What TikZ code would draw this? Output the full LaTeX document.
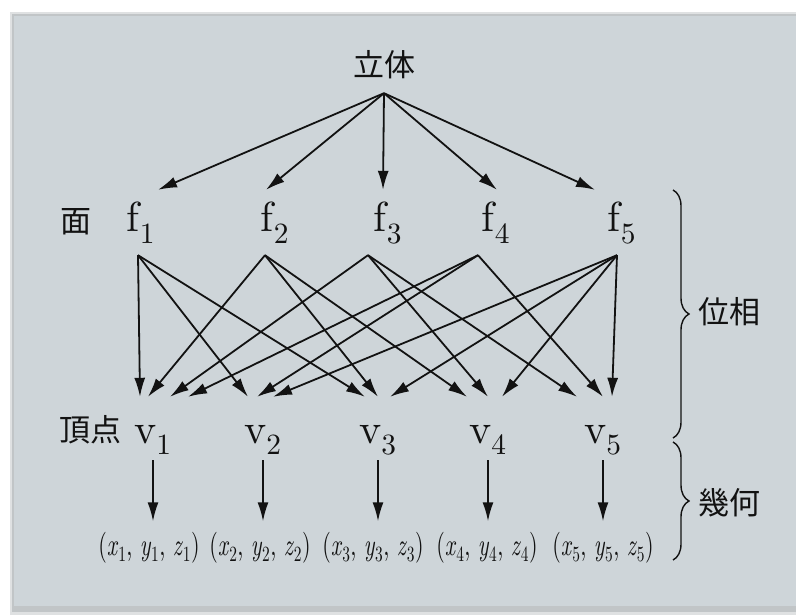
\documentclass[tikz,border=0pt]{standalone}
\usepackage{fontspec}
\usepackage{graphicx}
\setmainfont{lmroman10-regular.otf}[ItalicFont=lmroman10-italic.otf]
\newfontfamily\jpfont{Noto Sans CJK JP}
\usetikzlibrary{arrows.meta, calc, decorations.pathreplacing}
\definecolor{panelgray}{RGB}{206,213,217}
\definecolor{shadegray}{RGB}{165,170,174}
\definecolor{inkdark}{RGB}{18,18,18}
\tikzset{
  jplabel/.style={font=\jpfont\fontsize{31}{34}\selectfont, text=inkdark, inner sep=0pt},
  facenode/.style={font=\fontsize{42}{46}\selectfont, text=inkdark, anchor=base,
    text height=38pt, text depth=19pt, inner sep=4pt},
  vertnode/.style={font=\fontsize{42}{46}\selectfont, text=inkdark, anchor=base,
    text height=42pt, text depth=13pt, inner sep=4pt},
  coordnode/.style={font=\fontsize{31}{33}\selectfont, text=inkdark,
    inner xsep=2pt, inner ysep=11pt},
  arrow/.style={-{Latex[length=19pt, width=11pt]}, line width=1.8pt, color=inkdark},
  brace/.style={decorate, decoration={brace, amplitude=16pt}, line width=1.4pt, color=inkdark}
}

\begin{document}
\begin{tikzpicture}[x=1pt, y=-1pt]
  \useasboundingbox (0,0) rectangle (796,615);

  % Panel with a soft edge
  \fill[white] (0,0) rectangle (796,615);
  \fill[shadegray, opacity=0.35] (10,12) rectangle (796,615);
  \fill[shadegray, opacity=0.5] (12,14) rectangle (796,612);
  \fill[panelgray] (14,16) rectangle (796,606);

  % Solid at the top
  \node[jplabel, anchor=base, text depth=12pt, inner sep=4pt] (solid) at (384,77) {立体};

  % Faces
  \node[jplabel] (facelbl) at (76,222) {面};
  \foreach \i/\x in {1/141, 2/275, 3/388, 4/496, 5/622}
    \node[facenode] (f\i) at (\x,232) {f\textsubscript{\i}};

  % Vertices
  \node[jplabel] (vertlbl) at (90,430) {頂点};
  \foreach \i/\x in {1/153, 2/263, 3/378, 4/488, 5/603}
    \node[vertnode] (v\i) at (\x,443) {v\textsubscript{\i}};

  % Coordinates
  \foreach \i/\x in {1/149, 2/260, 3/373, 4/487, 5/603}
    \node[coordnode] (c\i) at (\x,548)
      {\scalebox{0.71}[1]{(\textit{x}\textsubscript{\i}, \textit{y}\textsubscript{\i}, \textit{z}\textsubscript{\i})}};

  % Solid -> faces
  \foreach \i/\d in {1/17, 2/-9, 3/-5, 4/1, 5/-27}
    \draw[arrow] (solid.south) -- ([xshift=\d pt]f\i.north);

  % Faces -> vertices
  \foreach \f/\fx/\v/\vx in {1/-3/1/-13, 1/-3/2/-15, 1/-3/3/-13,
                             2/-10/1/-5, 2/-10/3/0, 2/-10/4/-21,
                             3/-20/1/17, 3/-20/4/0, 3/-20/5/-26,
                             4/-18/1/35, 4/-18/2/-6, 4/-18/5/0,
                             5/-5/2/10, 5/-5/3/12, 5/-5/4/14, 5/-5/5/9}
    \draw[arrow] ([xshift=\fx pt]f\f.south) -- ([xshift=\vx pt]v\v.north);

  % Vertices -> coordinates
  \foreach \i in {1,...,5}
    \draw[arrow] (v\i.south) -- (v\i.south |- c\i.north);

  % Braces
  \draw[brace] (673,190) -- (673,438);
  \node[jplabel] (topo) at (729,312) {位相};
  \draw[brace] (673,442) -- (673,560);
  \node[jplabel] (geom) at (729,503) {幾何};
\end{tikzpicture}
\end{document}
